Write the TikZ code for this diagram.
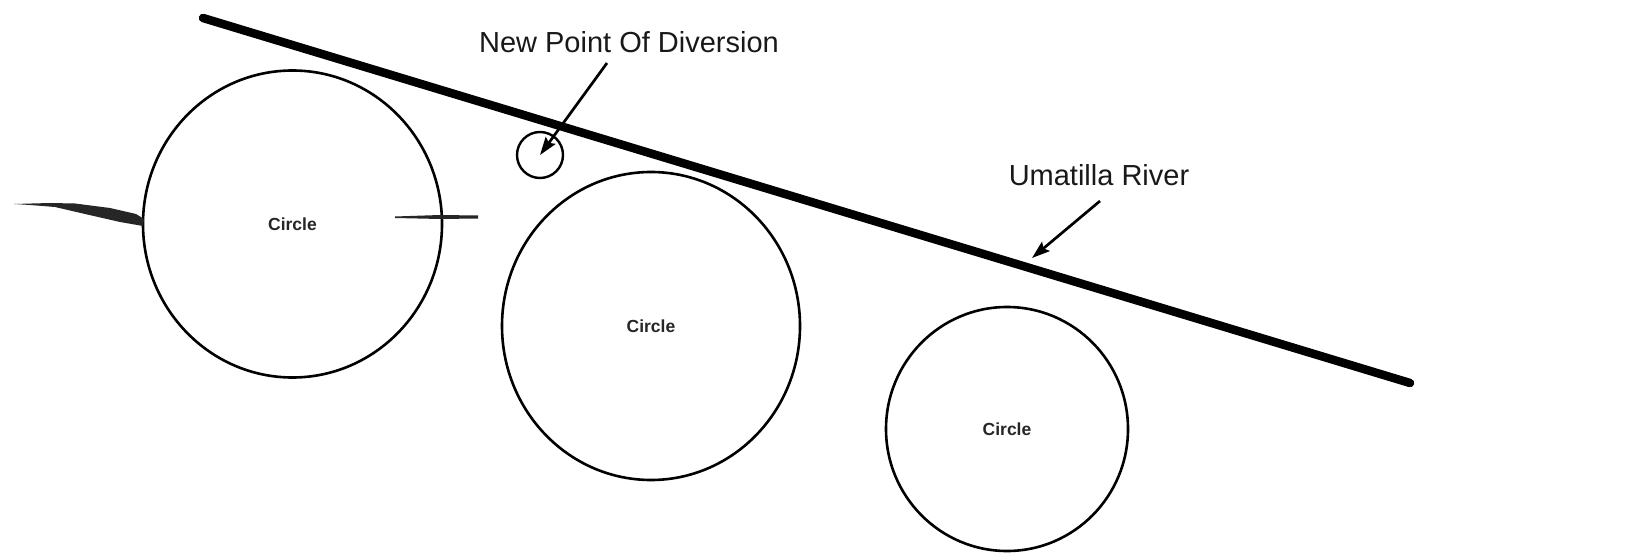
\documentclass[tikz,border=0pt]{standalone}
\usepackage{fontspec}
\setmainfont{Liberation Sans}
\usetikzlibrary{shapes.geometric,arrows.meta}
\begin{document}
\begin{tikzpicture}[x=1pt,y=-1pt,
  circ/.style={draw=black, line width=2.6pt, ellipse, inner sep=0pt,
    font=\fontsize{17.5}{20}\selectfont\bfseries, text=black!85},
  lbl/.style={font=\fontsize{29}{34}\selectfont, text=black!90, inner sep=0pt},
  pointer/.style={line width=2.7pt, -{Stealth[length=18pt,width=12pt,inset=3pt]}},
  river/.style={line width=8.5pt, line cap=round},
  smudge/.style={fill=black!85, draw=none}]
\useasboundingbox (0,0) rectangle (1629,553);
\fill[white] (0,0) rectangle (1629,553);

% river
\coordinate (r1) at (203,18);
\coordinate (r2) at (1410,383);
\draw[river] (r1) -- (r2);

% circles
\node[circ, minimum width=299pt, minimum height=307pt] (c1) at (292.5,224) {Circle};
\node[circ, minimum width=298pt, minimum height=308pt] (c2) at (651,326) {Circle};
\node[circ, minimum width=242pt, minimum height=244pt] (c3) at (1007,429) {Circle};
\node[draw=black, line width=2.4pt, circle, inner sep=0pt, minimum size=46pt] (pod) at (540,155) {};

% smudges beside circle 1
\path[smudge] (14,204) -- (50,203) -- (75,203.5) -- (110,208) -- (136,214) -- (144,219) -- (143,226)
  -- (120,222) -- (85,214) -- (55,207) -- (30,205) -- cycle;
\path[smudge] (395,216.5) -- (440,215) -- (478,215.5) -- (478,218.5) -- (440,219) -- (395,218) -- cycle;

% labels
\node[lbl] (lbl1) at (629,42) {New Point Of Diversion};
\node[lbl] (lbl2) at (1099,175) {Umatilla River};

% pointers
\coordinate (s1) at (607,63);
\draw[pointer] (s1) -- (pod.center);
\coordinate (s2) at (1100,201);
\coordinate (t2) at (1032,258);
\draw[pointer] (s2) -- (t2);
\end{tikzpicture}
\end{document}
